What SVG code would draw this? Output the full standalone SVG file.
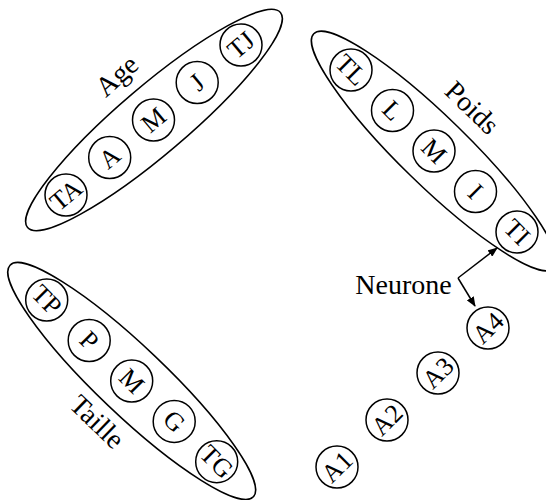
<svg xmlns="http://www.w3.org/2000/svg" width="546" height="500" viewBox="0 0 546 500">
<style>
.grp{fill:none;stroke:#000;stroke-width:1.5}
.c{fill:#fff;stroke:#000;stroke-width:1.5}
.t{font-family:"Liberation Serif","Times New Roman",serif;font-size:26px;text-anchor:middle;fill:#000}
.lbl{font-family:"Liberation Serif","Times New Roman",serif;font-size:28px;text-anchor:middle;fill:#000}
.con{fill:none;stroke:#000;stroke-width:1.5}
</style>
<defs>
<marker id="ah" markerWidth="10" markerHeight="8" refX="9" refY="4" orient="auto" markerUnits="userSpaceOnUse">
<path d="M0,0 L10,4 L0,8 Z" fill="#000"/>
</marker>
</defs>
<g id="age">
<ellipse class="grp" cx="154" cy="120" rx="166" ry="34" transform="rotate(-40.4 154 120)"/>
<text class="lbl" transform="translate(117,76) rotate(-42)" y="9">Age</text>
<g id="age-TA" transform="translate(66,195)"><circle class="c" r="21"/><text class="t" transform="rotate(-40)" y="8.6">TA</text></g>
<g id="age-A" transform="translate(109.7,157.5)"><circle class="c" r="21"/><text class="t" transform="rotate(-40)" y="8.6">A</text></g>
<g id="age-M" transform="translate(153.5,120)"><circle class="c" r="21"/><text class="t" transform="rotate(-40)" y="8.6">M</text></g>
<g id="age-J" transform="translate(197.2,82.5)"><circle class="c" r="21"/><text class="t" transform="rotate(-40)" y="8.6">J</text></g>
<g id="age-TJ" transform="translate(241,45)"><circle class="c" r="21"/><text class="t" transform="rotate(-40)" y="8.6">TJ</text></g>
</g>
<g id="poids">
<ellipse class="grp" cx="434" cy="151" rx="168" ry="34" transform="rotate(44.3 434 151)"/>
<text class="lbl" transform="translate(472,108) rotate(44)" y="9">Poids</text>
<g id="poids-TL" transform="translate(351,70)"><circle class="c" r="21"/><text class="t" transform="rotate(45)" y="8.6">TL</text></g>
<g id="poids-L" transform="translate(392.5,110.5)"><circle class="c" r="21"/><text class="t" transform="rotate(45)" y="8.6">L</text></g>
<g id="poids-M" transform="translate(434,151)"><circle class="c" r="21"/><text class="t" transform="rotate(45)" y="8.6">M</text></g>
<g id="poids-I" transform="translate(475.5,191.5)"><circle class="c" r="21"/><text class="t" transform="rotate(45)" y="8.6">I</text></g>
<g id="poids-TI" transform="translate(517,232)"><circle class="c" r="21"/><text class="t" transform="rotate(45)" y="8.6">TI</text></g>
</g>
<g id="taille">
<ellipse class="grp" cx="131.7" cy="381" rx="168" ry="34" transform="rotate(43.6 131.7 381)"/>
<text class="lbl" transform="translate(97,422) rotate(44)" y="9">Taille</text>
<g id="taille-TP" transform="translate(46.7,300)"><circle class="c" r="21"/><text class="t" transform="rotate(45)" y="8.6">TP</text></g>
<g id="taille-P" transform="translate(89.2,340.5)"><circle class="c" r="21"/><text class="t" transform="rotate(45)" y="8.6">P</text></g>
<g id="taille-M" transform="translate(131.7,381)"><circle class="c" r="21"/><text class="t" transform="rotate(45)" y="8.6">M</text></g>
<g id="taille-G" transform="translate(174.2,421.4)"><circle class="c" r="21"/><text class="t" transform="rotate(45)" y="8.6">G</text></g>
<g id="taille-TG" transform="translate(216.7,461.7)"><circle class="c" r="21"/><text class="t" transform="rotate(45)" y="8.6">TG</text></g>
</g>
<g id="A4" transform="translate(488,328)"><circle class="c" r="21"/><text class="t" transform="rotate(-45)" y="8.6">A4</text></g>
<g id="A3" transform="translate(438,373)"><circle class="c" r="21"/><text class="t" transform="rotate(-45)" y="8.6">A3</text></g>
<g id="A2" transform="translate(387,420)"><circle class="c" r="21"/><text class="t" transform="rotate(-45)" y="8.6">A2</text></g>
<g id="A1" transform="translate(337,467)"><circle class="c" r="21"/><text class="t" transform="rotate(-45)" y="8.6">A1</text></g>
<g id="neurone"><text class="lbl" x="403.5" y="294">Neurone</text></g>
<g id="connectors">
<path class="con" d="M458,278 L497,248" marker-end="url(#ah)"/>
<path class="con" d="M458,278 L475,306" marker-end="url(#ah)"/>
</g>
</svg>
